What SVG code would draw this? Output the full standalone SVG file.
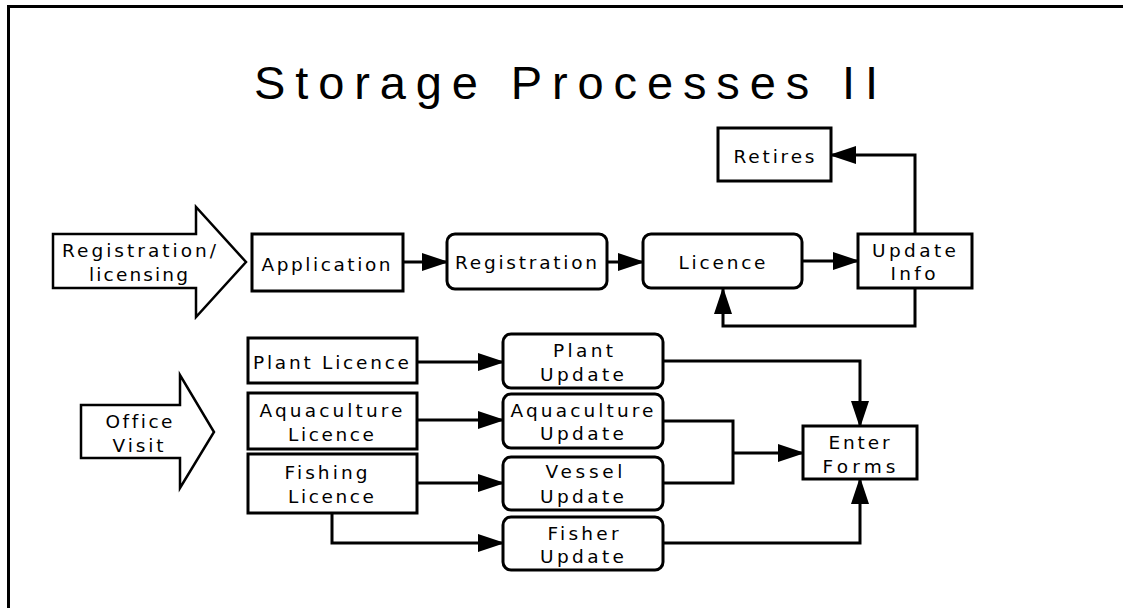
<svg xmlns="http://www.w3.org/2000/svg" width="1123" height="608" viewBox="0 0 1123 608">
<style>
  .box { fill: #fff; stroke: #000; stroke-width: 3; }
  .big { fill: #fff; stroke: #000; stroke-width: 2.5; stroke-linejoin: miter; }
  .lbl { font-family: "DejaVu Sans", "Liberation Sans", sans-serif; font-size: 18.5px; fill: #000; text-anchor: middle; font-variant-ligatures: none; }
  .title { font-family: "Liberation Sans", Arial, sans-serif; font-size: 47px; fill: #000; }
  .con { fill: none; stroke: #000; stroke-width: 3; }
  .arr { marker-end: url(#ah); }
  .frame { fill: none; stroke: #000; stroke-width: 3; }
</style>
<defs>
  <marker id="ah" markerUnits="userSpaceOnUse" markerWidth="27" markerHeight="20" refX="25" refY="10" orient="auto">
    <path d="M0,1 L27,10 L0,19 z" fill="#000"/>
  </marker>
</defs>
<rect x="0" y="0" width="1123" height="608" fill="#fff"/>
<path class="frame" d="M8.5,608 V6.5 H1123"/>
<text class="title" x="254" y="99" textLength="624" lengthAdjust="spacing">Storage Processes II</text>

<g id="connectors">
  <path class="con arr" d="M403,262 H447"/>
  <path class="con arr" d="M607,262 H643"/>
  <path class="con arr" d="M802,261 H858"/>
  <path class="con arr" d="M915,234 V155 H831"/>
  <path class="con arr" d="M915,288 V326 H723 V289"/>
  <path class="con arr" d="M417,362 H503"/>
  <path class="con arr" d="M417,420 H503"/>
  <path class="con arr" d="M417,483 H503"/>
  <path class="con arr" d="M332,513 V543 H503"/>
  <path class="con arr" d="M663,361 H860 V426"/>
  <path class="con" d="M663,421 H733 V483 H663"/>
  <path class="con arr" d="M733,453 H803"/>
  <path class="con arr" d="M663,543 H860 V479"/>
</g>

<g id="registration-licensing">
  <polygon class="big" points="53,234 196,234 196,207 246,262 196,317 196,288 53,288"/>
  <text class="lbl" x="139" y="257" textLength="154" lengthAdjust="spacing">Registration/</text>
  <text class="lbl" x="138.5" y="281" textLength="99" lengthAdjust="spacing">licensing</text>
</g>
<g id="application">
  <rect class="box" x="252" y="234" width="151" height="57"/>
  <text class="lbl" x="326" y="271" textLength="129" lengthAdjust="spacing">Application</text>
</g>
<g id="registration">
  <rect class="box" x="447" y="234" width="160" height="55" rx="8"/>
  <text class="lbl" x="526" y="269" textLength="142" lengthAdjust="spacing">Registration</text>
</g>
<g id="licence">
  <rect class="box" x="643" y="234" width="159" height="54" rx="8"/>
  <text class="lbl" x="722" y="269" textLength="87" lengthAdjust="spacing">Licence</text>
</g>
<g id="update-info">
  <rect class="box" x="858" y="234" width="114" height="54"/>
  <text class="lbl" x="914" y="257" textLength="84" lengthAdjust="spacing">Update</text>
  <text class="lbl" x="913" y="280" textLength="45" lengthAdjust="spacing">Info</text>
</g>
<g id="retires">
  <rect class="box" x="718" y="128" width="113" height="53"/>
  <text class="lbl" x="774" y="163" textLength="81" lengthAdjust="spacing">Retires</text>
</g>

<g id="office-visit">
  <polygon class="big" points="81,405 180,405 180,375 214,432 180,488 180,458 81,458"/>
  <text class="lbl" x="139" y="428" textLength="67" lengthAdjust="spacing">Office</text>
  <text class="lbl" x="138" y="452" textLength="51" lengthAdjust="spacing">Visit</text>
</g>
<g id="plant-licence">
  <rect class="box" x="248" y="338" width="169" height="45"/>
  <text class="lbl" x="331" y="369" textLength="156" lengthAdjust="spacing">Plant Licence</text>
</g>
<g id="aquaculture-licence">
  <rect class="box" x="248" y="393" width="169" height="56"/>
  <text class="lbl" x="331" y="417" textLength="143" lengthAdjust="spacing">Aquaculture</text>
  <text class="lbl" x="331" y="441" textLength="86" lengthAdjust="spacing">Licence</text>
</g>
<g id="fishing-licence">
  <rect class="box" x="248" y="454" width="169" height="59"/>
  <text class="lbl" x="326" y="479" textLength="83" lengthAdjust="spacing">Fishing</text>
  <text class="lbl" x="331" y="503" textLength="86" lengthAdjust="spacing">Licence</text>
</g>
<g id="plant-update">
  <rect class="box" x="503" y="334" width="160" height="54" rx="8"/>
  <text class="lbl" x="583" y="357" textLength="60" lengthAdjust="spacing">Plant</text>
  <text class="lbl" x="582" y="381" textLength="84" lengthAdjust="spacing">Update</text>
</g>
<g id="aquaculture-update">
  <rect class="box" x="503" y="394" width="160" height="54" rx="8"/>
  <text class="lbl" x="582" y="417" textLength="143" lengthAdjust="spacing">Aquaculture</text>
  <text class="lbl" x="582" y="440" textLength="84" lengthAdjust="spacing">Update</text>
</g>
<g id="vessel-update">
  <rect class="box" x="503" y="457" width="160" height="53" rx="8"/>
  <text class="lbl" x="584" y="478" textLength="77" lengthAdjust="spacing">Vessel</text>
  <text class="lbl" x="582" y="503" textLength="84" lengthAdjust="spacing">Update</text>
</g>
<g id="fisher-update">
  <rect class="box" x="503" y="517" width="160" height="53" rx="8"/>
  <text class="lbl" x="583" y="540" textLength="71" lengthAdjust="spacing">Fisher</text>
  <text class="lbl" x="582" y="563" textLength="84" lengthAdjust="spacing">Update</text>
</g>
<g id="enter-forms">
  <rect class="box" x="803" y="426" width="114" height="53"/>
  <text class="lbl" x="859" y="449" textLength="61" lengthAdjust="spacing">Enter</text>
  <text class="lbl" x="859" y="473" textLength="73" lengthAdjust="spacing">Forms</text>
</g>
</svg>
